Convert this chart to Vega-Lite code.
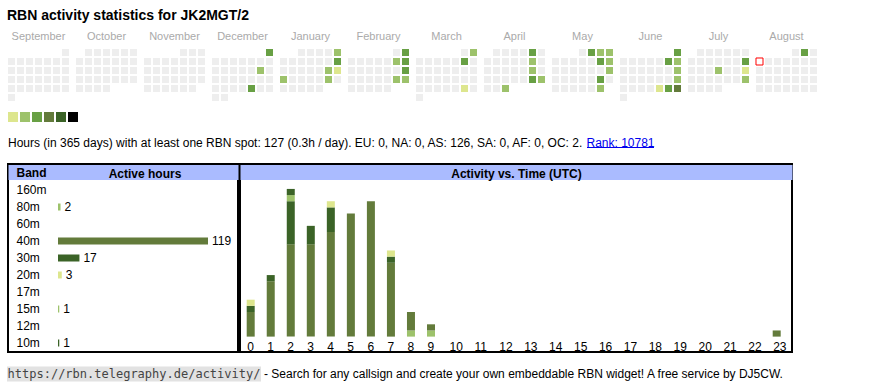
{
"$schema":"https://vega.github.io/schema/vega-lite/v6.json",
"background":"white",
"padding":{"left":7,"top":8,"right":0,"bottom":0},
"bounds":"full",
"spacing":11,
"title":{"text":"RBN activity statistics for JK2MGT/2","anchor":"start","font":"Liberation Sans","fontSize":14,"fontWeight":"bold","color":"#000000","offset":8},
"resolve":{"scale":{"color":"independent"}},
"config":{"view":{"stroke":null},"font":"Liberation Sans"},
"datasets":{
"cal":[
{"m":"September","w":0,"c":6,"v":0},
{"m":"September","w":1,"c":0,"v":0},{"m":"September","w":1,"c":1,"v":0},{"m":"September","w":1,"c":2,"v":0},{"m":"September","w":1,"c":3,"v":0},{"m":"September","w":1,"c":4,"v":0},{"m":"September","w":1,"c":5,"v":0},{"m":"September","w":1,"c":6,"v":0},
{"m":"September","w":2,"c":0,"v":0},{"m":"September","w":2,"c":1,"v":0},{"m":"September","w":2,"c":2,"v":0},{"m":"September","w":2,"c":3,"v":0},{"m":"September","w":2,"c":4,"v":0},{"m":"September","w":2,"c":5,"v":0},{"m":"September","w":2,"c":6,"v":0},
{"m":"September","w":3,"c":0,"v":0},{"m":"September","w":3,"c":1,"v":0},{"m":"September","w":3,"c":2,"v":0},{"m":"September","w":3,"c":3,"v":0},{"m":"September","w":3,"c":4,"v":0},{"m":"September","w":3,"c":5,"v":0},{"m":"September","w":3,"c":6,"v":0},
{"m":"September","w":4,"c":0,"v":0},{"m":"September","w":4,"c":1,"v":0},{"m":"September","w":4,"c":2,"v":0},{"m":"September","w":4,"c":3,"v":0},{"m":"September","w":4,"c":4,"v":0},{"m":"September","w":4,"c":5,"v":0},{"m":"September","w":4,"c":6,"v":0},
{"m":"September","w":5,"c":0,"v":0},
{"m":"October","w":0,"c":1,"v":0},{"m":"October","w":0,"c":2,"v":0},{"m":"October","w":0,"c":3,"v":0},{"m":"October","w":0,"c":4,"v":0},{"m":"October","w":0,"c":5,"v":0},{"m":"October","w":0,"c":6,"v":0},
{"m":"October","w":1,"c":0,"v":0},{"m":"October","w":1,"c":1,"v":0},{"m":"October","w":1,"c":2,"v":0},{"m":"October","w":1,"c":3,"v":0},{"m":"October","w":1,"c":4,"v":0},{"m":"October","w":1,"c":5,"v":0},{"m":"October","w":1,"c":6,"v":0},
{"m":"October","w":2,"c":0,"v":0},{"m":"October","w":2,"c":1,"v":0},{"m":"October","w":2,"c":2,"v":0},{"m":"October","w":2,"c":3,"v":0},{"m":"October","w":2,"c":4,"v":0},{"m":"October","w":2,"c":5,"v":0},{"m":"October","w":2,"c":6,"v":0},
{"m":"October","w":3,"c":0,"v":0},{"m":"October","w":3,"c":1,"v":0},{"m":"October","w":3,"c":2,"v":0},{"m":"October","w":3,"c":3,"v":0},{"m":"October","w":3,"c":4,"v":0},{"m":"October","w":3,"c":5,"v":0},{"m":"October","w":3,"c":6,"v":0},
{"m":"October","w":4,"c":0,"v":0},{"m":"October","w":4,"c":1,"v":0},{"m":"October","w":4,"c":2,"v":0},{"m":"October","w":4,"c":3,"v":0},
{"m":"November","w":0,"c":4,"v":0},{"m":"November","w":0,"c":5,"v":0},{"m":"November","w":0,"c":6,"v":0},
{"m":"November","w":1,"c":0,"v":0},{"m":"November","w":1,"c":1,"v":0},{"m":"November","w":1,"c":2,"v":0},{"m":"November","w":1,"c":3,"v":0},{"m":"November","w":1,"c":4,"v":0},{"m":"November","w":1,"c":5,"v":0},{"m":"November","w":1,"c":6,"v":0},
{"m":"November","w":2,"c":0,"v":0},{"m":"November","w":2,"c":1,"v":0},{"m":"November","w":2,"c":2,"v":0},{"m":"November","w":2,"c":3,"v":0},{"m":"November","w":2,"c":4,"v":0},{"m":"November","w":2,"c":5,"v":0},{"m":"November","w":2,"c":6,"v":0},
{"m":"November","w":3,"c":0,"v":0},{"m":"November","w":3,"c":1,"v":0},{"m":"November","w":3,"c":2,"v":0},{"m":"November","w":3,"c":3,"v":0},{"m":"November","w":3,"c":4,"v":0},{"m":"November","w":3,"c":5,"v":0},{"m":"November","w":3,"c":6,"v":0},
{"m":"November","w":4,"c":0,"v":0},{"m":"November","w":4,"c":1,"v":0},{"m":"November","w":4,"c":2,"v":0},{"m":"November","w":4,"c":3,"v":0},{"m":"November","w":4,"c":4,"v":0},{"m":"November","w":4,"c":5,"v":0},
{"m":"December","w":0,"c":6,"v":3},
{"m":"December","w":1,"c":0,"v":0},{"m":"December","w":1,"c":1,"v":0},{"m":"December","w":1,"c":2,"v":0},{"m":"December","w":1,"c":3,"v":0},{"m":"December","w":1,"c":4,"v":0},{"m":"December","w":1,"c":5,"v":0},{"m":"December","w":1,"c":6,"v":0},
{"m":"December","w":2,"c":0,"v":0},{"m":"December","w":2,"c":1,"v":0},{"m":"December","w":2,"c":2,"v":0},{"m":"December","w":2,"c":3,"v":0},{"m":"December","w":2,"c":4,"v":0},{"m":"December","w":2,"c":5,"v":2},{"m":"December","w":2,"c":6,"v":0},
{"m":"December","w":3,"c":0,"v":0},{"m":"December","w":3,"c":1,"v":0},{"m":"December","w":3,"c":2,"v":0},{"m":"December","w":3,"c":3,"v":0},{"m":"December","w":3,"c":4,"v":0},{"m":"December","w":3,"c":5,"v":0},{"m":"December","w":3,"c":6,"v":0},
{"m":"December","w":4,"c":0,"v":0},{"m":"December","w":4,"c":1,"v":0},{"m":"December","w":4,"c":2,"v":0},{"m":"December","w":4,"c":3,"v":0},{"m":"December","w":4,"c":4,"v":3},{"m":"December","w":4,"c":5,"v":0},{"m":"December","w":4,"c":6,"v":0},
{"m":"December","w":5,"c":0,"v":0},{"m":"December","w":5,"c":1,"v":0},
{"m":"January","w":0,"c":2,"v":0},{"m":"January","w":0,"c":3,"v":0},{"m":"January","w":0,"c":4,"v":0},{"m":"January","w":0,"c":5,"v":0},{"m":"January","w":0,"c":6,"v":2},
{"m":"January","w":1,"c":0,"v":0},{"m":"January","w":1,"c":1,"v":0},{"m":"January","w":1,"c":2,"v":0},{"m":"January","w":1,"c":3,"v":0},{"m":"January","w":1,"c":4,"v":0},{"m":"January","w":1,"c":5,"v":0},{"m":"January","w":1,"c":6,"v":3},
{"m":"January","w":2,"c":0,"v":0},{"m":"January","w":2,"c":1,"v":0},{"m":"January","w":2,"c":2,"v":0},{"m":"January","w":2,"c":3,"v":0},{"m":"January","w":2,"c":4,"v":0},{"m":"January","w":2,"c":5,"v":2},{"m":"January","w":2,"c":6,"v":1},
{"m":"January","w":3,"c":0,"v":2},{"m":"January","w":3,"c":1,"v":0},{"m":"January","w":3,"c":2,"v":0},{"m":"January","w":3,"c":3,"v":0},{"m":"January","w":3,"c":4,"v":0},{"m":"January","w":3,"c":5,"v":2},{"m":"January","w":3,"c":6,"v":0},
{"m":"January","w":4,"c":0,"v":0},{"m":"January","w":4,"c":1,"v":0},{"m":"January","w":4,"c":2,"v":0},{"m":"January","w":4,"c":3,"v":0},{"m":"January","w":4,"c":4,"v":0},
{"m":"February","w":0,"c":5,"v":0},{"m":"February","w":0,"c":6,"v":3},
{"m":"February","w":1,"c":0,"v":0},{"m":"February","w":1,"c":1,"v":0},{"m":"February","w":1,"c":2,"v":0},{"m":"February","w":1,"c":3,"v":0},{"m":"February","w":1,"c":4,"v":0},{"m":"February","w":1,"c":5,"v":2},{"m":"February","w":1,"c":6,"v":3},
{"m":"February","w":2,"c":0,"v":0},{"m":"February","w":2,"c":1,"v":0},{"m":"February","w":2,"c":2,"v":0},{"m":"February","w":2,"c":3,"v":0},{"m":"February","w":2,"c":4,"v":0},{"m":"February","w":2,"c":5,"v":0},{"m":"February","w":2,"c":6,"v":3},
{"m":"February","w":3,"c":0,"v":0},{"m":"February","w":3,"c":1,"v":0},{"m":"February","w":3,"c":2,"v":0},{"m":"February","w":3,"c":3,"v":0},{"m":"February","w":3,"c":4,"v":0},{"m":"February","w":3,"c":5,"v":2},{"m":"February","w":3,"c":6,"v":2},
{"m":"February","w":4,"c":0,"v":0},{"m":"February","w":4,"c":1,"v":0},{"m":"February","w":4,"c":2,"v":0},{"m":"February","w":4,"c":3,"v":0},{"m":"February","w":4,"c":4,"v":0},
{"m":"March","w":0,"c":5,"v":0},{"m":"March","w":0,"c":6,"v":2},
{"m":"March","w":1,"c":0,"v":0},{"m":"March","w":1,"c":1,"v":0},{"m":"March","w":1,"c":2,"v":0},{"m":"March","w":1,"c":3,"v":0},{"m":"March","w":1,"c":4,"v":0},{"m":"March","w":1,"c":5,"v":3},{"m":"March","w":1,"c":6,"v":0},
{"m":"March","w":2,"c":0,"v":0},{"m":"March","w":2,"c":1,"v":0},{"m":"March","w":2,"c":2,"v":0},{"m":"March","w":2,"c":3,"v":0},{"m":"March","w":2,"c":4,"v":0},{"m":"March","w":2,"c":5,"v":0},{"m":"March","w":2,"c":6,"v":0},
{"m":"March","w":3,"c":0,"v":0},{"m":"March","w":3,"c":1,"v":0},{"m":"March","w":3,"c":2,"v":0},{"m":"March","w":3,"c":3,"v":0},{"m":"March","w":3,"c":4,"v":0},{"m":"March","w":3,"c":5,"v":0},{"m":"March","w":3,"c":6,"v":0},
{"m":"March","w":4,"c":0,"v":0},{"m":"March","w":4,"c":1,"v":0},{"m":"March","w":4,"c":2,"v":0},{"m":"March","w":4,"c":3,"v":0},{"m":"March","w":4,"c":4,"v":0},{"m":"March","w":4,"c":5,"v":1},{"m":"March","w":4,"c":6,"v":0},
{"m":"March","w":5,"c":0,"v":0},
{"m":"April","w":0,"c":1,"v":0},{"m":"April","w":0,"c":2,"v":0},{"m":"April","w":0,"c":3,"v":0},{"m":"April","w":0,"c":4,"v":0},{"m":"April","w":0,"c":5,"v":3},{"m":"April","w":0,"c":6,"v":0},
{"m":"April","w":1,"c":0,"v":0},{"m":"April","w":1,"c":1,"v":0},{"m":"April","w":1,"c":2,"v":0},{"m":"April","w":1,"c":3,"v":0},{"m":"April","w":1,"c":4,"v":0},{"m":"April","w":1,"c":5,"v":2},{"m":"April","w":1,"c":6,"v":0},
{"m":"April","w":2,"c":0,"v":0},{"m":"April","w":2,"c":1,"v":0},{"m":"April","w":2,"c":2,"v":0},{"m":"April","w":2,"c":3,"v":0},{"m":"April","w":2,"c":4,"v":0},{"m":"April","w":2,"c":5,"v":2},{"m":"April","w":2,"c":6,"v":0},
{"m":"April","w":3,"c":0,"v":0},{"m":"April","w":3,"c":1,"v":0},{"m":"April","w":3,"c":2,"v":0},{"m":"April","w":3,"c":3,"v":0},{"m":"April","w":3,"c":4,"v":0},{"m":"April","w":3,"c":5,"v":3},{"m":"April","w":3,"c":6,"v":2},
{"m":"April","w":4,"c":0,"v":0},{"m":"April","w":4,"c":1,"v":0},{"m":"April","w":4,"c":2,"v":2},
{"m":"May","w":0,"c":3,"v":0},{"m":"May","w":0,"c":4,"v":3},{"m":"May","w":0,"c":5,"v":2},{"m":"May","w":0,"c":6,"v":2},
{"m":"May","w":1,"c":0,"v":0},{"m":"May","w":1,"c":1,"v":0},{"m":"May","w":1,"c":2,"v":0},{"m":"May","w":1,"c":3,"v":0},{"m":"May","w":1,"c":4,"v":0},{"m":"May","w":1,"c":5,"v":3},{"m":"May","w":1,"c":6,"v":2},
{"m":"May","w":2,"c":0,"v":0},{"m":"May","w":2,"c":1,"v":0},{"m":"May","w":2,"c":2,"v":0},{"m":"May","w":2,"c":3,"v":0},{"m":"May","w":2,"c":4,"v":0},{"m":"May","w":2,"c":5,"v":0},{"m":"May","w":2,"c":6,"v":2},
{"m":"May","w":3,"c":0,"v":0},{"m":"May","w":3,"c":1,"v":0},{"m":"May","w":3,"c":2,"v":0},{"m":"May","w":3,"c":3,"v":0},{"m":"May","w":3,"c":4,"v":0},{"m":"May","w":3,"c":5,"v":3},{"m":"May","w":3,"c":6,"v":0},
{"m":"May","w":4,"c":0,"v":0},{"m":"May","w":4,"c":1,"v":0},{"m":"May","w":4,"c":2,"v":0},{"m":"May","w":4,"c":3,"v":0},{"m":"May","w":4,"c":4,"v":0},{"m":"May","w":4,"c":5,"v":2},
{"m":"June","w":0,"c":6,"v":3},
{"m":"June","w":1,"c":0,"v":0},{"m":"June","w":1,"c":1,"v":0},{"m":"June","w":1,"c":2,"v":0},{"m":"June","w":1,"c":3,"v":0},{"m":"June","w":1,"c":4,"v":0},{"m":"June","w":1,"c":5,"v":3},{"m":"June","w":1,"c":6,"v":2},
{"m":"June","w":2,"c":0,"v":0},{"m":"June","w":2,"c":1,"v":0},{"m":"June","w":2,"c":2,"v":0},{"m":"June","w":2,"c":3,"v":0},{"m":"June","w":2,"c":4,"v":0},{"m":"June","w":2,"c":5,"v":0},{"m":"June","w":2,"c":6,"v":2},
{"m":"June","w":3,"c":0,"v":0},{"m":"June","w":3,"c":1,"v":0},{"m":"June","w":3,"c":2,"v":0},{"m":"June","w":3,"c":3,"v":0},{"m":"June","w":3,"c":4,"v":0},{"m":"June","w":3,"c":5,"v":0},{"m":"June","w":3,"c":6,"v":2},
{"m":"June","w":4,"c":0,"v":0},{"m":"June","w":4,"c":1,"v":0},{"m":"June","w":4,"c":2,"v":0},{"m":"June","w":4,"c":3,"v":0},{"m":"June","w":4,"c":4,"v":1},{"m":"June","w":4,"c":5,"v":3},{"m":"June","w":4,"c":6,"v":4},
{"m":"June","w":5,"c":0,"v":0},
{"m":"July","w":0,"c":1,"v":0},{"m":"July","w":0,"c":2,"v":0},{"m":"July","w":0,"c":3,"v":0},{"m":"July","w":0,"c":4,"v":0},{"m":"July","w":0,"c":5,"v":0},{"m":"July","w":0,"c":6,"v":0},
{"m":"July","w":1,"c":0,"v":0},{"m":"July","w":1,"c":1,"v":0},{"m":"July","w":1,"c":2,"v":0},{"m":"July","w":1,"c":3,"v":0},{"m":"July","w":1,"c":4,"v":0},{"m":"July","w":1,"c":5,"v":0},{"m":"July","w":1,"c":6,"v":3},
{"m":"July","w":2,"c":0,"v":0},{"m":"July","w":2,"c":1,"v":0},{"m":"July","w":2,"c":2,"v":0},{"m":"July","w":2,"c":3,"v":2},{"m":"July","w":2,"c":4,"v":0},{"m":"July","w":2,"c":5,"v":0},{"m":"July","w":2,"c":6,"v":1},
{"m":"July","w":3,"c":0,"v":0},{"m":"July","w":3,"c":1,"v":0},{"m":"July","w":3,"c":2,"v":0},{"m":"July","w":3,"c":3,"v":0},{"m":"July","w":3,"c":4,"v":0},{"m":"July","w":3,"c":5,"v":0},{"m":"July","w":3,"c":6,"v":2},
{"m":"July","w":4,"c":0,"v":0},{"m":"July","w":4,"c":1,"v":0},{"m":"July","w":4,"c":2,"v":0},{"m":"July","w":4,"c":3,"v":0},
{"m":"August","w":0,"c":4,"v":0},{"m":"August","w":0,"c":5,"v":3},{"m":"August","w":0,"c":6,"v":0},
{"m":"August","w":1,"c":0,"v":0},{"m":"August","w":1,"c":1,"v":0},{"m":"August","w":1,"c":2,"v":0},{"m":"August","w":1,"c":3,"v":0},{"m":"August","w":1,"c":4,"v":0},{"m":"August","w":1,"c":5,"v":0},{"m":"August","w":1,"c":6,"v":0},
{"m":"August","w":2,"c":0,"v":0},{"m":"August","w":2,"c":1,"v":0},{"m":"August","w":2,"c":2,"v":0},{"m":"August","w":2,"c":3,"v":0},{"m":"August","w":2,"c":4,"v":0},{"m":"August","w":2,"c":5,"v":0},{"m":"August","w":2,"c":6,"v":0},
{"m":"August","w":3,"c":0,"v":0},{"m":"August","w":3,"c":1,"v":0},{"m":"August","w":3,"c":2,"v":0},{"m":"August","w":3,"c":3,"v":0},{"m":"August","w":3,"c":4,"v":0},{"m":"August","w":3,"c":5,"v":0},{"m":"August","w":3,"c":6,"v":0},
{"m":"August","w":4,"c":0,"v":0},{"m":"August","w":4,"c":1,"v":0},{"m":"August","w":4,"c":2,"v":0},{"m":"August","w":4,"c":3,"v":0},{"m":"August","w":4,"c":4,"v":0},{"m":"August","w":4,"c":5,"v":0},{"m":"August","w":4,"c":6,"v":0}
],
"today":[{"m":"August","w":1,"c":0}],
"levels":[{"v":1},{"v":2},{"v":3},{"v":4},{"v":5},{"v":6}],
"bands":[{"band":"80m","hrs":2},{"band":"40m","hrs":119},{"band":"30m","hrs":17},{"band":"20m","hrs":3},{"band":"15m","hrs":1},{"band":"10m","hrs":1}],
"hours":[
{"h":0,"band":"40m","n":4},{"h":0,"band":"30m","n":1},{"h":0,"band":"20m","n":1},
{"h":1,"band":"40m","n":9},{"h":1,"band":"30m","n":1},
{"h":2,"band":"40m","n":15},{"h":2,"band":"30m","n":7},{"h":2,"band":"15m","n":1},{"h":2,"band":"10m","n":1},
{"h":3,"band":"40m","n":15},{"h":3,"band":"30m","n":3},
{"h":4,"band":"40m","n":17},{"h":4,"band":"30m","n":4},{"h":4,"band":"20m","n":1},
{"h":5,"band":"40m","n":20},
{"h":6,"band":"40m","n":22},
{"h":7,"band":"40m","n":12},{"h":7,"band":"30m","n":1},{"h":7,"band":"20m","n":1},
{"h":8,"band":"80m","n":1},{"h":8,"band":"40m","n":3},
{"h":9,"band":"80m","n":1},{"h":9,"band":"40m","n":1},
{"h":23,"band":"40m","n":1}
],
"info":[{"part":"main","text":"Hours (in 365 days) with at least one RBN spot: 127 (0.3h / day). EU: 0, NA: 0, AS: 126, SA: 0, AF: 0, OC: 2."},{"part":"rank","text":"Rank: 10781"}],
"footer":[{"part":"url","text":"https://rbn.telegraphy.de/activity/"},{"part":"desc","text":"- Search for any callsign and create your own embeddable RBN widget! A free service by DJ5CW."}]
},
"vconcat":[
{
"width":809,"height":52,
"layer":[
{"data":{"name":"cal"},"mark":{"type":"rect"},
"encoding":{
"x":{"field":"m","type":"nominal","sort":null,"scale":{"domain":["September","October","November","December","January","February","March","April","May","June","July","August"],"paddingInner":0.10294,"paddingOuter":0},"axis":{"orient":"top","title":null,"ticks":false,"domain":false,"labelAngle":0,"labelPadding":9.5,"labelBaseline":"alphabetic","labelFontSize":11,"labelFont":"Liberation Sans","labelColor":"#aaaaaa"}},
"xOffset":{"field":"c","type":"ordinal","scale":{"domain":[0,1,2,3,4,5,6],"paddingInner":0.2222,"paddingOuter":0}},
"y":{"field":"w","type":"ordinal","scale":{"domain":[0,1,2,3,4,5],"paddingInner":0.2222,"paddingOuter":0},"axis":null},
"color":{"field":"v","type":"ordinal","scale":{"domain":[0,1,2,3,4,5,6],"range":["#eeeeee","#dde68e","#9dc26b","#68a044","#637b3b","#3b6327","#000000"]},"legend":null}
}},
{"data":{"name":"today"},"mark":{"type":"rect","fill":"white","stroke":"#ff0000","strokeWidth":1},
"encoding":{
"x":{"field":"m","type":"nominal","sort":null},
"xOffset":{"field":"c","type":"ordinal"},
"y":{"field":"w","type":"ordinal"}
}}
]
},
{
"width":70,"height":10,
"data":{"name":"levels"},
"mark":{"type":"rect"},
"encoding":{
"x":{"field":"v","type":"ordinal","scale":{"paddingInner":0.1667,"paddingOuter":0},"axis":null},
"color":{"field":"v","type":"ordinal","scale":{"domain":[0,1,2,3,4,5,6],"range":["#eeeeee","#dde68e","#9dc26b","#68a044","#637b3b","#3b6327","#000000"]},"legend":null}
}
},
{
"width":780,"height":19,
"data":{"name":"info"},
"layer":[
{"transform":[{"filter":"datum.part == 'main'"}],"mark":{"type":"text","align":"left","baseline":"middle","fontSize":12,"font":"Liberation Sans","color":"#000000"},
"encoding":{"x":{"field":"part","type":"nominal","scale":{"type":"point","domain":["main","rank"],"range":[0,612.5],"padding":0},"axis":null},"text":{"field":"text"}}},
{"transform":[{"filter":"datum.part == 'rank'"}],"mark":{"type":"text","align":"center","baseline":"middle","fontSize":12,"font":"Liberation Sans","color":"#0000ee"},
"encoding":{"x":{"field":"part","type":"nominal"},"text":{"field":"text"}}},
{"transform":[{"filter":"datum.part == 'rank'"}],"mark":{"type":"tick","orient":"horizontal","size":67,"thickness":1,"color":"#0000ee","opacity":1,"yOffset":5},
"encoding":{"x":{"field":"part","type":"nominal"}}}
]
},
{
"hconcat":[
{
"width":230,"height":188,
"view":{"stroke":"#000000","strokeWidth":2},
"data":{"name":"bands"},
"layer":[
{"mark":{"type":"bar","height":7},
"encoding":{
"y":{"field":"band","type":"nominal","sort":null,"scale":{"domain":["Band","160m","80m","60m","40m","30m","20m","17m","15m","12m","10m"],"paddingInner":0.1176,"paddingOuter":0.0882},
"axis":{"orient":"left","title":"Active hours","titleAngle":0,"titleX":136.5,"titleY":9,"titleAlign":"center","titleBaseline":"middle","titleFont":"Liberation Sans","titleFontSize":12,"titleFontWeight":"bold","titleColor":"#000000","ticks":false,"domain":false,"labelAlign":"left","labelPadding":-8,"labelFontSize":12,"labelFont":"Liberation Sans","labelColor":"#000000","labelFontWeight":{"condition":{"test":"datum.value === 'Band'","value":"bold"},"value":"normal"},"grid":true,"bandPosition":0.5,"gridWidth":15,"gridColor":{"condition":{"test":"datum.value === 'Band'","value":"#aabbff"},"value":"transparent"}}},
"x":{"field":"hrs","type":"quantitative","scale":{"domain":[-39.67,142.8],"nice":false,"zero":false,"padding":0},"axis":null},
"color":{"field":"band","type":"nominal","scale":{"domain":["80m","40m","30m","20m","15m","10m"],"range":["#9dc26b","#637b3b","#3b6327","#dde68e","#9dc26b","#3b6327"]},"legend":null}
}},
{"mark":{"type":"text","align":"left","baseline":"middle","dx":4,"fontSize":12,"font":"Liberation Sans","color":"#000000"},
"encoding":{
"y":{"field":"band","type":"nominal","sort":null},
"x":{"field":"hrs","type":"quantitative"},
"text":{"field":"hrs","type":"quantitative"}
}}
]
},
{
"width":552,"height":188,
"view":{"stroke":"#000000","strokeWidth":2},
"data":{"name":"hours"},
"mark":{"type":"bar","width":8,"xOffset":4},
"encoding":{
"x":{"field":"h","type":"quantitative","scale":{"domain":[-0.335,0,9,10,23,23.775],"range":[0,6.7,187,209,532.7,552],"nice":false,"zero":false,"padding":0},
"axis":{"values":[0,1,2,3,4,5,6,7,8,9,10,11,12,13,14,15,16,17,18,19,20,21,22,23],"format":"d","title":null,"ticks":false,"domain":false,"grid":false,"labelAlign":"left","labelBaseline":"top","labelPadding":-10.3,"labelFlush":false,"labelOverlap":false,"labelBound":false,"labelFontSize":12,"labelFont":"Liberation Sans","labelColor":"#000000"}},
"y":{"field":"n","type":"quantitative","stack":"zero","scale":{"domain":[-2.5,28.05],"nice":false,"zero":false,"padding":0},
"axis":{"values":[26.68],"grid":true,"gridColor":"#aabbff","gridWidth":15,"labels":false,"ticks":false,"domain":false,"title":"Activity vs. Time (UTC)","titleAngle":0,"titleX":276,"titleY":9,"titleAlign":"center","titleBaseline":"middle","titleFont":"Liberation Sans","titleFontSize":12,"titleFontWeight":"bold","titleColor":"#000000"}},
"color":{"field":"band","type":"nominal","scale":{"domain":["80m","40m","30m","20m","15m","10m"],"range":["#9dc26b","#637b3b","#3b6327","#dde68e","#9dc26b","#3b6327"]},"legend":null},
"order":{"field":"band","sort":"descending"}
}
}
],
"spacing":0,
"bounds":"full"
},
{
"width":780,"height":18,
"data":{"name":"footer"},
"layer":[
{"transform":[{"filter":"datum.part == 'url'"}],"mark":{"type":"tick","orient":"horizontal","size":254,"thickness":15,"color":"#e2e2e2","opacity":1},
"encoding":{"x":{"field":"part","type":"nominal","scale":{"type":"point","domain":["url","desc"],"range":[126,256],"padding":0},"axis":null}}},
{"transform":[{"filter":"datum.part == 'url'"}],"mark":{"type":"text","align":"center","baseline":"middle","font":"DejaVu Sans Mono","fontSize":12,"color":"#444444"},
"encoding":{"x":{"field":"part","type":"nominal"},"text":{"field":"text"}}},
{"transform":[{"filter":"datum.part == 'desc'"}],"mark":{"type":"text","align":"left","baseline":"middle","font":"Liberation Sans","fontSize":12,"color":"#000000"},
"encoding":{"x":{"field":"part","type":"nominal"},"text":{"field":"text"}}}
]
}
]
}
